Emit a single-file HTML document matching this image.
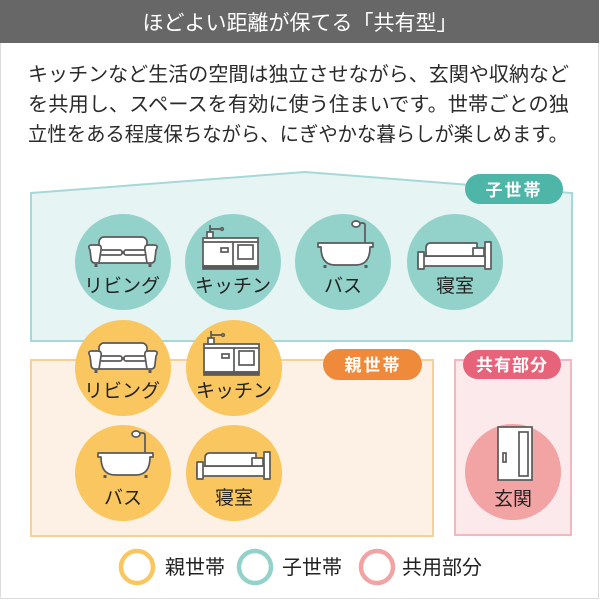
<!DOCTYPE html>
<html><head><meta charset="utf-8">
<style>
html,body{margin:0;padding:0;background:#fff;}
svg{display:block;}
text{font-family:"Liberation Sans","Noto Sans CJK JP",sans-serif;}
</style></head>
<body>
<svg width="600" height="600" viewBox="0 0 600 600" xmlns="http://www.w3.org/2000/svg">
<defs>
  <g id="sofa" stroke="#5a5a5a" stroke-width="1.7" fill="#fff" stroke-linejoin="round">
    <rect x="-24" y="-25" width="48" height="15" rx="5"/>
    <rect x="-26" y="-9" width="52" height="10" rx="2"/>
    <rect x="-23" y="-12" width="22" height="5" rx="2"/>
    <rect x="1" y="-12" width="22" height="5" rx="2"/>
    <path d="M-26,1 L-28,1 Q-32,1 -32,-4 L-33,-12 Q-36,-17 -31,-17 L-25,-17 Q-21,-17 -22,-12 L-24,1 Z"/>
    <path d="M26,1 L28,1 Q32,1 32,-4 L33,-12 Q36,-17 31,-17 L25,-17 Q21,-17 22,-12 L24,1 Z"/>
    <rect x="-28.5" y="2" width="3" height="3" fill="#5a5a5a" stroke="none"/>
    <rect x="25.5" y="2" width="3" height="3" fill="#5a5a5a" stroke="none"/>
  </g>
  <g id="kitchen" stroke="#5a5a5a" stroke-width="1.7" fill="#fff">
    <rect x="-30" y="-24" width="55" height="28"/>
    <line x1="-30" y1="-20" x2="25" y2="-20"/>
    <rect x="-30" y="4" width="55" height="3" fill="#5a5a5a"/>
    <line x1="0" y1="-20" x2="0" y2="4"/>
    <rect x="-12" y="-14" width="7" height="4"/>
    <rect x="5" y="-17" width="15" height="14"/>
    <path d="M-23,-24 V-37 M-23,-33 H-12" fill="none"/>
    <rect x="-26" y="-30" width="6" height="6"/>
    <circle cx="-11" cy="-33" r="1.3"/>
  </g>
  <g id="bath" stroke="#5a5a5a" stroke-width="1.7" fill="#fff" stroke-linejoin="round">
    <path d="M22,-19 V-37 Q22,-39 19,-39 H17" fill="none"/>
    <ellipse cx="13" cy="-38" rx="4" ry="3"/>
    <path d="M-25,-19 H30 V-15 H27 Q27,3 13,3 H-8 Q-22,3 -22,-15 H-25 Z"/>
    <rect x="-19.5" y="3" width="3" height="3" fill="#5a5a5a" stroke="none"/>
    <rect x="21.5" y="3" width="3" height="3" fill="#5a5a5a" stroke="none"/>
  </g>
  <g id="bed" stroke="#5a5a5a" stroke-width="1.7" fill="#fff" stroke-linejoin="round">
    <rect x="30" y="-20" width="6" height="27"/>
    <rect x="-37" y="-6" width="67" height="10"/>
    <rect x="-37" y="-10" width="6" height="17"/>
    <path d="M-29,-6 V-14 Q-29,-19 -24,-19 H22 V-6 Z"/>
    <rect x="18" y="-14" width="11" height="8"/>
  </g>
  <g id="door" stroke="#5a5a5a" stroke-width="1.7" fill="#fff">
    <rect x="-15" y="-46" width="34" height="53"/>
    <rect x="6" y="-41" width="9" height="44"/>
    <rect x="-10" y="-20" width="3" height="9"/>
  </g>
</defs>

<rect x="0.5" y="0.5" width="598" height="598" fill="#fff" stroke="#dcdcdc" stroke-width="1"/>
<rect x="0" y="0" width="599" height="43" fill="#676767"/>
<text x="300" y="30" font-size="21" fill="#fff" text-anchor="middle">ほどよい距離が保てる「共有型」</text>

<text x="28" y="81" font-size="20" fill="#2a2a2a" textLength="541" lengthAdjust="spacingAndGlyphs">キッチンなど生活の空間は独立させながら、玄関や収納など</text>
<text x="28" y="111" font-size="20" fill="#2a2a2a" textLength="541" lengthAdjust="spacingAndGlyphs">を共用し、スペースを有効に使う住まいです。世帯ごとの独</text>
<text x="28" y="141" font-size="20" fill="#2a2a2a" textLength="540" lengthAdjust="spacingAndGlyphs">立性をある程度保ちながら、にぎやかな暮らしが楽しめます。</text>

<polygon points="31,193 305,172 572,193 572,341 31,341" fill="#e7f4f4" stroke="#a6d8d8" stroke-width="2"/>
<rect x="31" y="360" width="402" height="176" fill="#fdf1e5" stroke="#f6cf9f" stroke-width="2"/>
<rect x="455" y="360" width="116" height="175" fill="#fce9eb" stroke="#f3b8bf" stroke-width="2"/>

<rect x="465" y="174" width="98" height="30" rx="15" fill="#4db6a9"/>
<text x="514" y="196" font-size="17" font-weight="bold" fill="#fff" text-anchor="middle" letter-spacing="2">子世帯</text>
<rect x="323" y="349" width="99" height="31" rx="15.5" fill="#ef8a3a"/>
<text x="373" y="371" font-size="17" font-weight="bold" fill="#fff" text-anchor="middle" letter-spacing="2">親世帯</text>
<rect x="463" y="350" width="98" height="29" rx="14.5" fill="#e6637a"/>
<text x="512" y="371" font-size="17" font-weight="bold" fill="#fff" text-anchor="middle" letter-spacing="1">共有部分</text>

<circle cx="123" cy="262" r="48" fill="#93d2ca"/>
<circle cx="233" cy="262" r="48" fill="#93d2ca"/>
<circle cx="343" cy="262" r="48" fill="#93d2ca"/>
<circle cx="455" cy="262" r="48" fill="#93d2ca"/>
<use href="#sofa" x="123" y="262"/>
<use href="#kitchen" x="233" y="262"/>
<use href="#bath" x="343" y="262"/>
<use href="#bed" x="455" y="262"/>
<g font-size="19" fill="#222" text-anchor="middle">
<text x="122" y="292">リビング</text>
<text x="233" y="292">キッチン</text>
<text x="343" y="292">バス</text>
<text x="455" y="292">寝室</text>
</g>

<circle cx="123" cy="368" r="48" fill="#f9c660"/>
<circle cx="234" cy="368" r="48" fill="#f9c660"/>
<circle cx="123" cy="473" r="48" fill="#f9c660"/>
<circle cx="234" cy="473" r="48" fill="#f9c660"/>
<use href="#sofa" x="123" y="368"/>
<use href="#kitchen" x="234" y="368"/>
<use href="#bath" x="123" y="472"/>
<use href="#bed" x="234" y="472"/>
<g font-size="19" fill="#222" text-anchor="middle">
<text x="122" y="397">リビング</text>
<text x="234" y="397">キッチン</text>
<text x="123" y="504">バス</text>
<text x="234" y="504">寝室</text>
</g>

<circle cx="513" cy="472" r="48" fill="#f2a3a3"/>
<use href="#door" x="513" y="473"/>
<text x="513" y="505" font-size="19" fill="#222" text-anchor="middle">玄関</text>

<circle cx="137" cy="567" r="16" fill="none" stroke="#f9c660" stroke-width="4.5"/>
<text x="165" y="574" font-size="20" fill="#222">親世帯</text>
<circle cx="255" cy="567" r="16" fill="none" stroke="#93d2ca" stroke-width="4.5"/>
<text x="282" y="574" font-size="20" fill="#222">子世帯</text>
<circle cx="377" cy="567" r="16" fill="none" stroke="#f2a3a3" stroke-width="4.5"/>
<text x="402" y="574" font-size="20" fill="#222">共用部分</text>
</svg>
</body></html>
